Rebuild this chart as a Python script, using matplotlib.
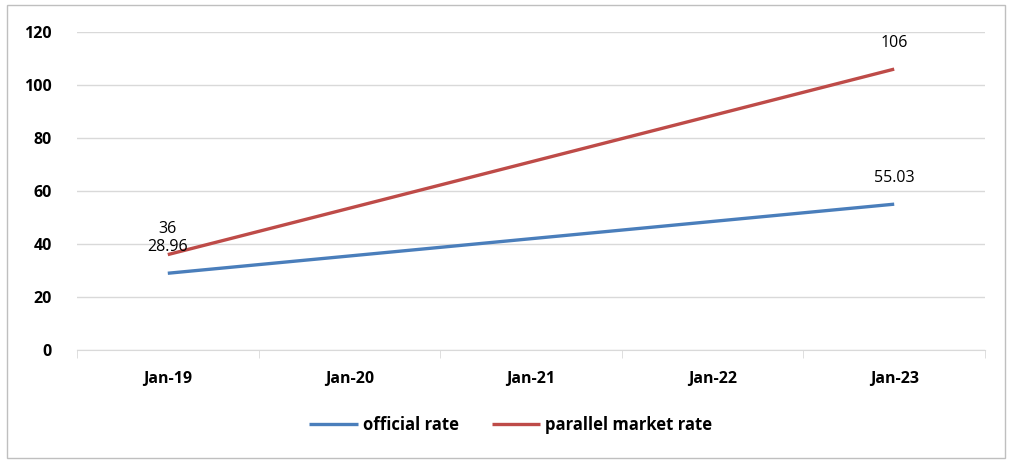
import numpy as np
import matplotlib
matplotlib.use('Agg')
import matplotlib.pyplot as plt
from matplotlib.patches import Rectangle

categories = ['Jan-19', 'Jan-20', 'Jan-21', 'Jan-22', 'Jan-23']
official_rate = [28.96, np.nan, np.nan, np.nan, 55.03]
parallel_rate = [36, np.nan, np.nan, np.nan, 106]
official_labels = ['28.96', '', '', '', '55.03']
parallel_labels = ['36', '', '', '', '106']

blue = '#4A7EBB'
red = '#BE4B48'
grid_col = '#D9D9D9'

plt.rcParams['font.family'] = ['Open Sans', 'DejaVu Sans']

fig = plt.figure(figsize=(10.13, 4.61), dpi=100)
ax = fig.add_axes([77 / 1013, 1 - 350 / 461, (985 - 77) / 1013, (350 - 32) / 461])

x = np.arange(len(categories))


def draw(vals, color, label):
    vals = np.array(vals, dtype=float)
    ok = ~np.isnan(vals)
    # connect the known points across the empty categories
    return ax.plot(x[ok], vals[ok], color=color, lw=2.4, label=label,
                   solid_capstyle='butt')[0]


l1 = draw(official_rate, blue, 'official rate')
l2 = draw(parallel_rate, red, 'parallel market rate')

for vals, labels in [(official_rate, official_labels), (parallel_rate, parallel_labels)]:
    for xi, v, t in zip(x, vals, labels):
        if t:
            ax.annotate(t, (xi, v), xytext=(0, 13), textcoords='offset points',
                        ha='center', va='bottom', fontsize=11.5, color='#000000')

ax.set_xlim(-0.5, len(categories) - 0.5)
ax.set_ylim(0, 120)
ax.set_yticks(np.arange(0, 121, 20))
ax.grid(axis='y', color=grid_col, lw=1)
ax.set_axisbelow(True)
for s in ['top', 'right', 'left']:
    ax.spines[s].set_visible(False)
ax.spines['bottom'].set_color(grid_col)

ax.set_xticks(x)
ax.set_xticklabels(categories, fontweight='bold', fontsize=11.5)
ax.set_xticks(np.arange(-0.5, len(categories)), minor=True)
ax.tick_params(axis='x', which='major', length=0, pad=15)
ax.tick_params(axis='x', which='minor', length=6, color=grid_col, direction='out')
ax.tick_params(axis='y', length=0, pad=18, labelsize=11.5)
for lab in ax.get_yticklabels():
    lab.set_fontweight('bold')

fig.legend(handles=[l1, l2], loc='center', bbox_to_anchor=(511 / 1013, 1 - 425 / 461),
           ncol=2, frameon=False, handlelength=2.9, handletextpad=0.3,
           columnspacing=2.0, prop={'weight': 'bold', 'size': 12})

fig.add_artist(Rectangle((7 / 1013, 1 - 458 / 461), 998 / 1013, 453 / 461,
                         transform=fig.transFigure, fill=False,
                         edgecolor='#BFBFBF', lw=1))

fig.savefig('out.png', dpi=100)
